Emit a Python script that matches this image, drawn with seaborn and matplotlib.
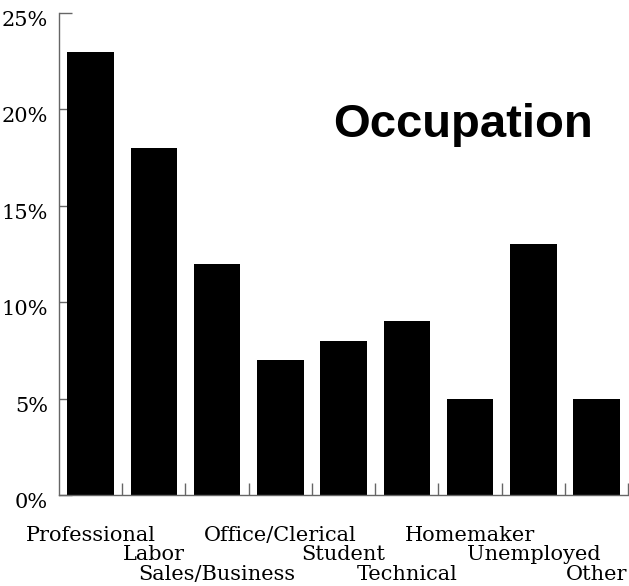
import matplotlib
matplotlib.use("Agg")
import matplotlib.pyplot as plt
import matplotlib.transforms as mtransforms
import seaborn as sns
from matplotlib.ticker import FixedLocator

categories = ["Professional", "Labor", "Sales/Business", "Office/Clerical",
              "Student", "Technical", "Homemaker", "Unemployed", "Other"]
values = [23, 18, 12, 7, 8, 9, 5, 13, 5]
y_ticks = [0, 5, 10, 15, 20, 25]
title = "Occupation"

sns.set_style("white")
plt.rcParams["font.family"] = ["DejaVu Serif"]
plt.rcParams["text.color"] = "black"
plt.rcParams["xtick.color"] = "black"
plt.rcParams["ytick.color"] = "black"

fig = plt.figure(figsize=(6.29, 5.86), dpi=100)
ax = fig.add_axes([0.0938, 0.1553, 0.905, 0.8225])

sns.barplot(x=categories, y=values, color="black", saturation=1,
            width=0.735, ax=ax, linewidth=0)

gray = "#666666"
ax.set_axisbelow(True)
ax.set_xlim(-0.5, 8.5)
ax.set_ylim(0, 25)
ax.set_yticks(y_ticks)
ax.set_yticklabels([f"{t}%" for t in y_ticks])
ax.set_xlabel("")
ax.set_ylabel("")

for side in ["top", "right"]:
    ax.spines[side].set_visible(False)
for side in ["left", "bottom"]:
    ax.spines[side].set_color(gray)
    ax.spines[side].set_linewidth(1)

ax.tick_params(axis="y", left=True, direction="in", length=9.5, width=1,
               color=gray, labelcolor="black", pad=8, labelsize=15)
ax.tick_params(axis="x", which="major", bottom=True, length=0, pad=22,
               labelsize=15, labelcolor="black")
ax.xaxis.set_minor_locator(FixedLocator([i + 0.5 for i in range(len(categories))]))
ax.tick_params(axis="x", which="minor", bottom=True, direction="in",
               length=8.5, width=1, color=gray)

# y labels hang just below their tick
up = mtransforms.ScaledTranslation(0, 2 / 100, fig.dpi_scale_trans)
for lab in ax.get_yticklabels():
    lab.set_va("top")
    lab.set_transform(lab.get_transform() + up)

# staggered category labels, three rows
for i, lab in enumerate(ax.get_xticklabels()):
    row = i % 3
    offset = mtransforms.ScaledTranslation(0, -row * 19.5 / 100, fig.dpi_scale_trans)
    lab.set_transform(lab.get_transform() + offset)

ax.text(5.89, 19.2, title, fontsize=34, fontweight="bold", color="black",
        family="Liberation Sans", ha="center", va="center")

fig.savefig("out.png", dpi=100)
